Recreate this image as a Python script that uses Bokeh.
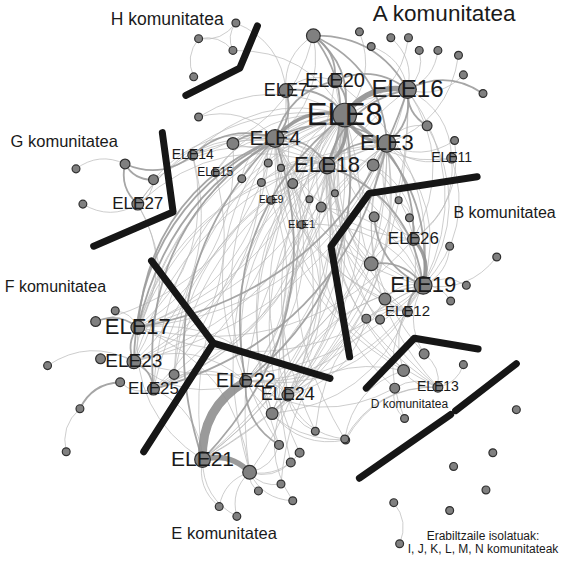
import math
from bokeh.plotting import figure
from bokeh.models import Range1d, ColumnDataSource
from bokeh.embed import file_html
from bokeh.resources import INLINE
from bokeh.core.properties import value

# ---- nodes (layout position in picture coordinates, node radius) ----
node_id = ["ELE8", "ELE16", "ELE20", "ELE7", "ELE4", "ELE3", "ELE18", "ELE11", "ELE14", "ELE15",
           "ELE9", "ELE1", "a1", "a2", "a3", "a4", "a5", "a6", "a7", "a8", "a9", "a10", "a11", "a12",
           "a13", "a14", "a15", "a16", "a17", "a18", "a19", "a20", "a21", "a22", "a23",
           "h1", "h2", "h3", "h4",
           "ELE27", "g1", "g2", "g3", "g4",
           "ELE26", "ELE19", "ELE12", "b1", "b2", "b3", "b4", "b5", "b6", "b7", "b8", "b9", "b10", "b11",
           "ELE13", "d1", "d2", "d3", "d4", "d5", "d6",
           "ELE17", "ELE23", "ELE25", "f1", "f2", "f3", "f4", "f5", "f6", "f7", "f8",
           "ELE22", "ELE24", "ELE21", "e1", "e2", "e3", "e4", "e5", "e6", "e7", "e8", "e9", "e10", "e11", "e12",
           "i1", "i2", "i3", "i4", "i5", "i6", "i7"]
node_x = [357, 421, 347, 297, 286, 400, 339, 466, 202, 225,
          282, 313, 325, 372, 384, 404, 422, 433, 452, 473, 478, 498, 441, 469,
          386, 243, 208, 279, 292, 252, 272, 304, 347, 321, 333,
          246, 208, 243, 203,
          146, 133, 162, 83, 90,
          427, 437, 421, 412, 423, 387, 464, 512, 384, 481, 465, 398, 379, 393,
          452, 438, 417, 478, 408, 418, 358,
          146, 142, 162, 103, 123, 108, 183, 128, 54, 87, 73,
          256, 299, 212, 283, 260, 290, 311, 302, 292, 269, 304, 229, 247, 327, 357,
          532, 508, 468, 501, 464, 407, 413]
node_y = [123, 97, 88, 98, 147, 152, 175, 167, 164, 182,
          210, 235, 42, 38, 53, 44, 44, 57, 57, 62, 82, 101, 134, 149,
          174, 152, 125, 172, 177, 188, 192, 193, 203, 209, 217,
          29, 45, 57, 84,
          214, 173, 189, 178, 214,
          250, 297, 324, 210, 228, 227, 257, 268, 275, 297, 313, 311, 331, 332,
          401, 367, 384, 378, 402, 433, 455,
          340, 375, 403, 334, 323, 372, 388, 396, 379, 423, 467,
          395, 409, 475, 428, 488, 460, 468, 478, 500, 507, 517, 523, 533, 446, 454,
          424, 468, 482, 506, 527, 519, 561]
node_r = [12, 9, 7, 7, 9, 9, 8, 5, 5, 4,
          4, 4, 7, 4, 4, 4, 4, 4, 4, 4, 4, 4, 5, 4,
          6, 6, 4, 4, 3.5, 4, 4, 5, 3.5, 3.5, 5,
          4, 4, 4, 4,
          6, 5, 5, 4, 4,
          6, 9, 5, 3.5, 4, 5, 4, 4, 7, 4, 4, 6, 4.5, 4.5,
          5, 5, 6, 4, 5, 4, 4,
          7, 7, 6, 5, 4, 5, 5, 4.5, 4, 4, 4,
          6, 6, 8, 6, 7, 4.5, 4.5, 4.5, 4, 4, 4, 4, 4, 4, 4,
          4, 4, 4, 4, 4, 4, 4]

# ---- node labels ----
label_id = ["ELE8", "ELE16", "ELE20", "ELE7", "ELE4", "ELE3", "ELE18", "ELE11", "ELE14", "ELE15",
            "ELE9", "ELE1", "ELE27", "ELE26", "ELE19", "ELE12", "ELE13", "ELE17", "ELE23", "ELE25",
            "ELE22", "ELE24", "ELE21"]
label_px = [31, 24, 20, 18, 21, 22, 22, 14, 14, 12,
            10, 11, 17, 17, 22, 15, 14, 22, 19, 17,
            20, 18, 21]

# ---- community labels ----
comm_text = ["H komunitatea", "A komunitatea", "G komunitatea", "B komunitatea", "F komunitatea",
             "D komunitatea", "E komunitatea", "Erabiltzaile isolatuak:", "I, J, K, L, M, N komunitateak"]
comm_x = [176, 459, 71, 520, 62, 423, 234, 498, 498]
comm_y = [25, 19, 150, 223, 298, 418, 550, 553, 566]
comm_px = [17.5, 22.5, 16.5, 16, 16, 12, 16.5, 12, 12]

# ---- community boundaries ----
bound_x = [[268, 250, 195], [171, 182, 101], [160, 223, 342], [223, 152],
           [492, 382, 343, 362], [379, 428, 493], [372, 465], [470, 532]]
bound_y = [[32, 75, 103], [141, 222, 257], [272, 356, 392], [356, 467],
           [186, 203, 257, 370], [402, 351, 362], [494, 429], [425, 377]]

# ---- edges (source, target, weight class) ----
edges_A = [("ELE8", "ELE16", 4), ("ELE4", "ELE8", 3), ("ELE8", "ELE18", 3), ("ELE3", "ELE8", 3),
           ("ELE20", "ELE8", 2), ("ELE7", "ELE8", 2), ("ELE4", "ELE18", 2), ("ELE7", "ELE4", 2),
           ("ELE16", "ELE3", 2), ("ELE18", "ELE3", 2), ("ELE20", "ELE16", 2), ("ELE4", "ELE3", 2),
           ("ELE7", "ELE20", 1), ("ELE4", "ELE20", 2), ("ELE18", "ELE16", 2),
           ("a1", "ELE8", 2), ("a1", "ELE20", 2), ("a1", "ELE16", 2), ("a1", "ELE3", 2), ("a1", "ELE18", 2),
           ("a1", "ELE4", 1), ("ELE7", "a1", 1), ("a1", "ELE14", 1),
           ("a2", "ELE8", 1), ("a3", "ELE16", 1), ("a4", "ELE16", 1), ("a5", "ELE8", 1), ("a6", "ELE16", 1),
           ("a7", "ELE16", 1), ("a8", "ELE3", 1), ("a9", "ELE16", 1), ("ELE16", "a10", 2), ("a11", "ELE16", 2),
           ("ELE3", "a11", 1), ("a12", "ELE3", 1), ("ELE11", "ELE3", 1), ("ELE16", "ELE11", 1), ("ELE11", "ELE8", 1),
           ("a13", "ELE3", 1), ("ELE18", "a13", 1), ("a14", "ELE4", 2), ("ELE8", "a14", 1), ("a15", "ELE4", 1),
           ("a16", "ELE4", 1), ("a17", "ELE18", 1), ("a18", "ELE4", 1), ("a19", "ELE18", 1), ("a20", "ELE8", 1),
           ("a21", "ELE18", 1), ("a22", "ELE8", 1), ("a23", "ELE8", 1), ("ELE9", "ELE4", 1), ("ELE1", "ELE8", 1),
           ("ELE14", "ELE4", 2), ("ELE14", "ELE8", 1), ("ELE15", "ELE8", 1), ("ELE15", "ELE4", 1)]
edges_H = [("h1", "h2", 1), ("h3", "h1", 1), ("h2", "h3", 1), ("h4", "h2", 1), ("h1", "ELE7", 1), ("h3", "ELE8", 1)]
edges_G = [("ELE14", "g1", 2), ("ELE27", "g1", 2), ("g2", "g1", 2), ("g2", "ELE27", 1), ("g3", "g1", 1),
           ("ELE27", "g4", 1), ("ELE27", "ELE4", 1), ("ELE27", "ELE8", 1), ("g2", "ELE4", 1), ("ELE27", "ELE18", 1)]
edges_B = [("ELE26", "ELE19", 3), ("ELE19", "b3", 2), ("b2", "ELE26", 1), ("b1", "ELE26", 1), ("ELE19", "b7", 1),
           ("b5", "ELE19", 1), ("b4", "ELE19", 1), ("ELE19", "b8", 1), ("ELE12", "ELE19", 2), ("b9", "ELE19", 1),
           ("b6", "ELE19", 2), ("b10", "ELE12", 1), ("b11", "ELE12", 1), ("b6", "ELE26", 1), ("ELE8", "ELE19", 2),
           ("ELE3", "ELE19", 1), ("ELE26", "ELE8", 1), ("ELE16", "ELE26", 1), ("b6", "ELE3", 1), ("ELE12", "ELE18", 1),
           ("b3", "ELE8", 1), ("b9", "ELE4", 1), ("ELE26", "ELE3", 1), ("ELE19", "ELE18", 1), ("b6", "ELE8", 1)]
edges_D = [("d1", "ELE13", 1), ("ELE13", "d2", 1), ("d3", "ELE13", 1), ("d4", "ELE13", 1), ("d5", "d4", 1),
           ("d6", "ELE13", 1), ("d2", "ELE19", 1), ("d1", "ELE19", 1), ("ELE13", "ELE8", 1), ("d2", "ELE8", 1),
           ("d4", "ELE18", 1), ("e1", "d2", 1)]
edges_F = [("ELE23", "ELE17", 2), ("f1", "ELE17", 2), ("f2", "ELE17", 1), ("f3", "ELE23", 1), ("ELE23", "ELE25", 2),
           ("ELE25", "f5", 1), ("f4", "ELE25", 1), ("f6", "ELE23", 1), ("f7", "f5", 2), ("f8", "f7", 1),
           ("ELE17", "ELE8", 2), ("ELE17", "ELE4", 2), ("ELE23", "ELE8", 1), ("ELE25", "ELE4", 2), ("ELE17", "ELE18", 1),
           ("ELE23", "ELE3", 1), ("ELE4", "f1", 1), ("ELE25", "ELE8", 1), ("f4", "ELE18", 1), ("ELE23", "ELE4", 2),
           ("ELE17", "ELE3", 1), ("ELE17", "ELE16", 1)]
edges_E = [("ELE21", "ELE22", 5), ("ELE21", "e2", 4), ("e3", "ELE22", 2), ("ELE22", "ELE24", 1), ("e1", "ELE24", 1),
           ("ELE22", "e1", 1), ("e3", "e2", 1), ("e4", "e2", 1), ("e5", "e2", 1), ("e6", "e2", 1), ("e7", "e2", 1),
           ("e8", "e2", 1), ("e9", "e2", 1), ("e10", "ELE21", 1), ("e9", "ELE21", 1), ("e11", "ELE24", 1),
           ("e12", "ELE24", 1), ("ELE22", "ELE8", 2), ("ELE24", "ELE8", 1), ("ELE21", "ELE4", 2), ("ELE22", "ELE18", 1),
           ("ELE24", "ELE3", 1), ("e1", "ELE19", 1), ("ELE21", "ELE18", 1), ("e2", "ELE8", 1), ("ELE22", "ELE4", 1),
           ("e1", "ELE8", 1), ("ELE24", "ELE19", 1), ("ELE21", "ELE17", 1), ("ELE22", "ELE23", 1), ("e2", "ELE3", 1),
           ("e11", "ELE19", 1), ("e12", "ELE13", 1)]
edges_X = [("ELE4", "ELE19", 1), ("ELE3", "ELE17", 1), ("ELE16", "ELE23", 1), ("ELE18", "ELE21", 1),
           ("ELE19", "ELE4", 1), ("ELE12", "ELE8", 1), ("ELE25", "ELE3", 1), ("ELE24", "ELE16", 1),
           ("ELE13", "ELE4", 1), ("ELE19", "ELE22", 1), ("ELE17", "ELE24", 1), ("i6", "i7", 1),
           ("ELE8", "ELE17", 1), ("ELE8", "ELE23", 1), ("ELE8", "ELE25", 1), ("ELE4", "ELE22", 1),
           ("ELE4", "ELE24", 1), ("ELE3", "ELE22", 1), ("ELE3", "ELE21", 1), ("ELE16", "ELE21", 1),
           ("ELE16", "ELE19", 1), ("ELE20", "ELE19", 1), ("ELE20", "ELE17", 1), ("ELE7", "ELE23", 1),
           ("ELE7", "ELE25", 1), ("ELE18", "ELE22", 1), ("ELE18", "ELE24", 1), ("ELE18", "ELE25", 1),
           ("ELE18", "e1", 1), ("ELE8", "e1", 1), ("ELE3", "e1", 1), ("ELE4", "e2", 1), ("ELE8", "ELE21", 1),
           ("ELE20", "ELE21", 1), ("ELE16", "ELE22", 1), ("ELE3", "ELE24", 1), ("ELE14", "ELE17", 1),
           ("ELE14", "ELE23", 1), ("ELE15", "ELE25", 1), ("ELE9", "ELE22", 1), ("ELE1", "ELE19", 1),
           ("ELE1", "ELE24", 1), ("a20", "ELE22", 1), ("a23", "ELE19", 1), ("a22", "ELE25", 1), ("a16", "ELE17", 1),
           ("a19", "ELE23", 1), ("a13", "ELE26", 1), ("a13", "ELE12", 1), ("a11", "ELE19", 1), ("a12", "ELE26", 1),
           ("ELE11", "ELE19", 1), ("ELE11", "ELE26", 1), ("b6", "ELE18", 1), ("b9", "ELE8", 1), ("b9", "ELE22", 1),
           ("b10", "ELE24", 1), ("b11", "ELE8", 1), ("ELE12", "ELE4", 1), ("ELE12", "ELE22", 1), ("ELE12", "e1", 1),
           ("d2", "ELE4", 1), ("d4", "ELE22", 1), ("d1", "ELE3", 1), ("ELE13", "ELE3", 1), ("ELE13", "ELE18", 1),
           ("ELE19", "ELE17", 1), ("ELE19", "ELE23", 1), ("ELE26", "ELE4", 1), ("ELE26", "ELE17", 1),
           ("ELE17", "e2", 1), ("ELE23", "ELE22", 1), ("ELE25", "ELE22", 1), ("ELE25", "ELE21", 1),
           ("f4", "ELE8", 1), ("f4", "ELE3", 1), ("ELE27", "ELE17", 1), ("ELE27", "ELE23", 1), ("g2", "ELE18", 1),
           ("ELE14", "ELE18", 1), ("a14", "ELE17", 1), ("a14", "ELE18", 1), ("a18", "ELE8", 1), ("a15", "ELE8", 1),
           ("e3", "ELE8", 1), ("e3", "ELE4", 1), ("e4", "ELE18", 1), ("e5", "ELE3", 1), ("e11", "ELE8", 1),
           ("e12", "ELE8", 1), ("e6", "ELE19", 1), ("e8", "ELE24", 1), ("e10", "e2", 1), ("d6", "ELE22", 1),
           ("d6", "e1", 1), ("d5", "ELE19", 1), ("e12", "d2", 1),
           ("ELE8", "ELE22", 2), ("ELE3", "ELE25", 2), ("ELE16", "ELE17", 2), ("ELE18", "ELE19", 2),
           ("ELE8", "ELE26", 2), ("ELE4", "ELE21", 2)]

# ---- styles ----
W_WIDTH = {1: 0.8, 2: 1.8, 3: 3.4, 4: 5.5, 5: 9.0}
W_COLOR = {1: "#bababa", 2: "#9c9c9c", 3: "#929292", 4: "#8f8f8f", 5: "#8f8f8f"}
BEND = 0.3

pos = {n: (x, y) for n, x, y in zip(node_id, node_x, node_y)}
all_edges = edges_A + edges_H + edges_G + edges_B + edges_D + edges_F + edges_E + edges_X
all_edges = sorted(all_edges, key=lambda e: e[2])

ed = dict(x0=[], y0=[], x1=[], y1=[], cx=[], cy=[], w=[], c=[])
for s, t, w in all_edges:
    x0, y0 = pos[s]
    x1, y1 = pos[t]
    dx, dy = x1 - x0, y1 - y0
    ed["x0"].append(x0); ed["y0"].append(y0)
    ed["x1"].append(x1); ed["y1"].append(y1)
    ed["cx"].append((x0 + x1) / 2 + BEND * dy)
    ed["cy"].append((y0 + y1) / 2 - BEND * dx)
    ed["w"].append(W_WIDTH[w]); ed["c"].append(W_COLOR[w])

p = figure(width=559, height=556, x_range=Range1d(6, 576), y_range=Range1d(574, 6),
           output_backend="svg", toolbar_location=None, min_border=0)
p.axis.visible = False
p.grid.visible = False
p.outline_line_color = None
p.background_fill_color = "white"
p.border_fill_color = "white"

p.quadratic(x0="x0", y0="y0", x1="x1", y1="y1", cx="cx", cy="cy",
            line_width="w", line_color="c", line_alpha=0.9, source=ColumnDataSource(ed))

p.multi_line(xs=bound_x, ys=bound_y, line_color="#161616", line_width=7,
             line_cap="round", line_join="round")

p.circle(x=node_x, y=node_y, radius=node_r, fill_color="#808080",
         line_color="#303030", line_width=1.2)

lx = [pos[n][0] for n in label_id]
ly = [pos[n][1] - 1 for n in label_id]
p.text(x=lx, y=ly, text=label_id, text_font=value("Liberation Sans"),
       text_font_size=[f"{s}px" for s in label_px], text_color="#1a1a1a",
       text_align="center", text_baseline="middle")

p.text(x=comm_x, y=comm_y, text=comm_text, text_font=value("Liberation Sans"),
       text_font_size=[f"{s}px" for s in comm_px], text_color="#1a1a1a",
       text_align="center", text_baseline="middle")

open("out.html", "w").write(file_html(p, INLINE))
